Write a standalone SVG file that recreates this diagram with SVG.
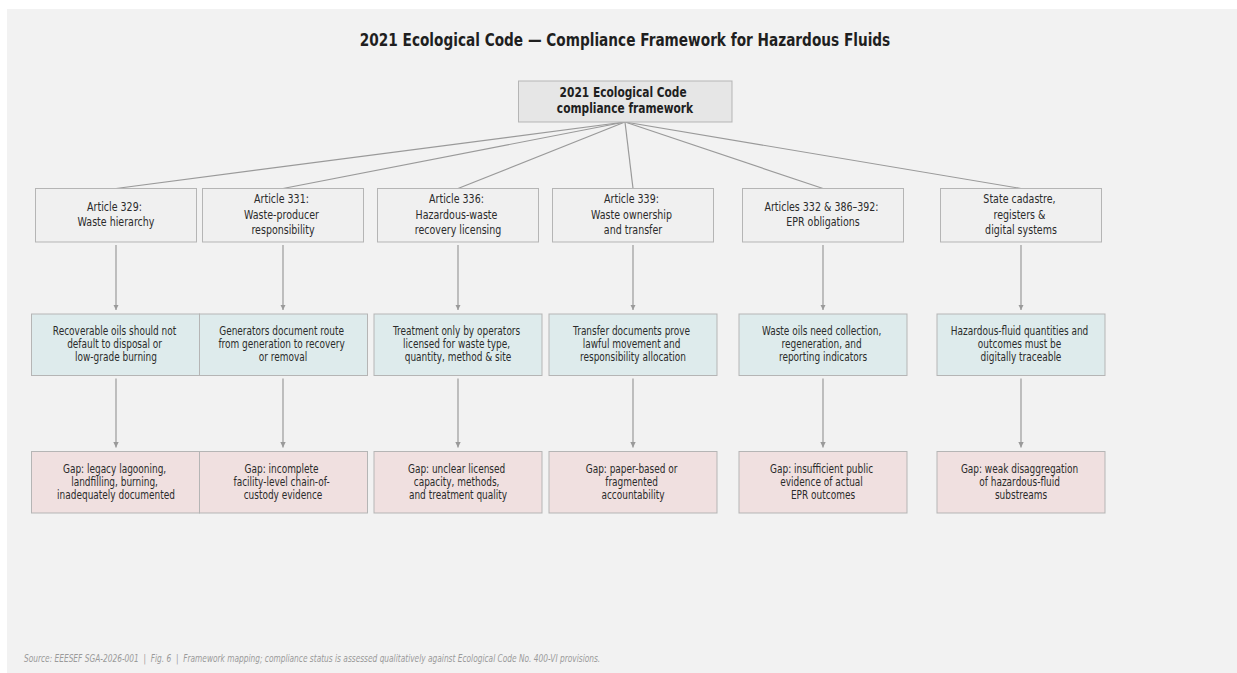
<svg xmlns="http://www.w3.org/2000/svg" width="1237" height="673" viewBox="0 0 1237 673">
  <style>
    .txt { font-family: "DejaVu Sans", "Liberation Sans", sans-serif; fill: #2b2b2b; text-anchor: middle; }
    .title { font-size: 18px; font-weight: bold; fill: #1f1f1f; }
    .rootlbl { font-size: 14px; font-weight: bold; fill: #1f1f1f; }
    .art { font-size: 12.5px; }
    .req { font-size: 11.8px; }
    .foot { font-family: "DejaVu Sans", "Liberation Sans", sans-serif; font-size: 9.8px; font-style: italic; fill: #9a9a9a; }
    .root-box { fill: #e6e6e6; stroke: #b5b5b5; stroke-width: 1; }
    .art-box { fill: #f0f0f0; stroke: #b5b5b5; stroke-width: 1; }
    .req-box { fill: #deebec; stroke: #b5b5b5; stroke-width: 1; }
    .gap-box { fill: #f0e0e0; stroke: #b5b5b5; stroke-width: 1; }
    .edge { stroke: #9a9a9a; stroke-width: 1.2; fill: none; }
  </style>
  <defs>
    <marker id="arrow" viewBox="0 0 10 10" refX="10" refY="5" markerWidth="4.5" markerHeight="4.5" orient="auto">
      <path d="M0,0 L10,5 L0,10 z" fill="#9a9a9a"/>
    </marker>
  </defs>

  <rect x="0" y="0" width="1237" height="673" fill="#ffffff"/>
  <rect x="7" y="9" width="1230" height="664" fill="#f2f2f2"/>

  <text class="txt title" transform="translate(625 0) scale(0.76 1)" x="0" y="46">2021 Ecological Code — Compliance Framework for Hazardous Fluids</text>

  <!-- connectors -->
  <g id="connectors">
    <line class="edge" x1="625" y1="122" x2="116" y2="188.5"/>
    <line class="edge" x1="625" y1="122" x2="283" y2="188.5"/>
    <line class="edge" x1="625" y1="122" x2="458" y2="188.5"/>
    <line class="edge" x1="625" y1="122" x2="633" y2="188.5"/>
    <line class="edge" x1="625" y1="122" x2="823" y2="188.5"/>
    <line class="edge" x1="625" y1="122" x2="1021" y2="188.5"/>

    <line class="edge" x1="116" y1="245" x2="116" y2="310" marker-end="url(#arrow)"/>
    <line class="edge" x1="283" y1="245" x2="283" y2="310" marker-end="url(#arrow)"/>
    <line class="edge" x1="458" y1="245" x2="458" y2="310" marker-end="url(#arrow)"/>
    <line class="edge" x1="633" y1="245" x2="633" y2="310" marker-end="url(#arrow)"/>
    <line class="edge" x1="823" y1="245" x2="823" y2="310" marker-end="url(#arrow)"/>
    <line class="edge" x1="1021" y1="245" x2="1021" y2="310" marker-end="url(#arrow)"/>

    <line class="edge" x1="116" y1="378.5" x2="116" y2="447.5" marker-end="url(#arrow)"/>
    <line class="edge" x1="283" y1="378.5" x2="283" y2="447.5" marker-end="url(#arrow)"/>
    <line class="edge" x1="458" y1="378.5" x2="458" y2="447.5" marker-end="url(#arrow)"/>
    <line class="edge" x1="633" y1="378.5" x2="633" y2="447.5" marker-end="url(#arrow)"/>
    <line class="edge" x1="823" y1="378.5" x2="823" y2="447.5" marker-end="url(#arrow)"/>
    <line class="edge" x1="1021" y1="378.5" x2="1021" y2="447.5" marker-end="url(#arrow)"/>
  </g>

  <!-- root -->
  <g id="root">
    <rect class="root-box" x="518.5" y="81" width="213.5" height="41"/>
    <text class="txt rootlbl" transform="translate(625 0) scale(0.76 1)">
      <tspan x="0" y="97">2021 Ecological Code</tspan>
      <tspan x="0" y="113">compliance framework</tspan>
    </text>
  </g>

  <!-- article row -->
  <g id="art329">
    <rect class="art-box" x="35.5" y="188.5" width="161" height="53.5"/>
    <text class="txt art" transform="translate(116 0) scale(0.76 1)">
      <tspan x="0" y="211">Article 329:</tspan>
      <tspan x="0" y="226.5">Waste hierarchy</tspan>
    </text>
  </g>
  <g id="art331">
    <rect class="art-box" x="202.5" y="188.5" width="161" height="53.5"/>
    <text class="txt art" transform="translate(283 0) scale(0.76 1)">
      <tspan x="0" y="203.5">Article 331:</tspan>
      <tspan x="0" y="219">Waste-producer</tspan>
      <tspan x="0" y="234.5">responsibility</tspan>
    </text>
  </g>
  <g id="art336">
    <rect class="art-box" x="377.5" y="188.5" width="161" height="53.5"/>
    <text class="txt art" transform="translate(458 0) scale(0.76 1)">
      <tspan x="0" y="203.5">Article 336:</tspan>
      <tspan x="0" y="219">Hazardous-waste</tspan>
      <tspan x="0" y="234.5">recovery licensing</tspan>
    </text>
  </g>
  <g id="art339">
    <rect class="art-box" x="552.5" y="188.5" width="161" height="53.5"/>
    <text class="txt art" transform="translate(633 0) scale(0.76 1)">
      <tspan x="0" y="203.5">Article 339:</tspan>
      <tspan x="0" y="219">Waste ownership</tspan>
      <tspan x="0" y="234.5">and transfer</tspan>
    </text>
  </g>
  <g id="art332">
    <rect class="art-box" x="742.5" y="188.5" width="161" height="53.5"/>
    <text class="txt art" transform="translate(823 0) scale(0.76 1)">
      <tspan x="0" y="211">Articles 332 &amp; 386–392:</tspan>
      <tspan x="0" y="226.5">EPR obligations</tspan>
    </text>
  </g>
  <g id="cadastre">
    <rect class="art-box" x="940.5" y="188.5" width="161" height="53.5"/>
    <text class="txt art" transform="translate(1021 0) scale(0.76 1)">
      <tspan x="0" y="203.5">State cadastre,</tspan>
      <tspan x="0" y="219">registers &amp;</tspan>
      <tspan x="0" y="234.5">digital systems</tspan>
    </text>
  </g>

  <!-- requirement row -->
  <g id="req329">
    <rect class="req-box" x="31.5" y="314" width="168" height="61.5"/>
    <text class="txt req" transform="translate(116 0) scale(0.76 1)">
      <tspan x="0" y="335.5">Recoverable oils should not</tspan>
      <tspan x="0" y="348.5">default to disposal or</tspan>
      <tspan x="0" y="361.5">low-grade burning</tspan>
    </text>
  </g>
  <g id="req331">
    <rect class="req-box" x="199.5" y="314" width="168" height="61.5"/>
    <text class="txt req" transform="translate(283 0) scale(0.76 1)">
      <tspan x="0" y="335.5">Generators document route</tspan>
      <tspan x="0" y="348.5">from generation to recovery</tspan>
      <tspan x="0" y="361.5">or removal</tspan>
    </text>
  </g>
  <g id="req336">
    <rect class="req-box" x="374" y="314" width="168" height="61.5"/>
    <text class="txt req" transform="translate(458 0) scale(0.76 1)">
      <tspan x="0" y="335.5">Treatment only by operators</tspan>
      <tspan x="0" y="348.5">licensed for waste type,</tspan>
      <tspan x="0" y="361.5">quantity, method &amp; site</tspan>
    </text>
  </g>
  <g id="req339">
    <rect class="req-box" x="549" y="314" width="168" height="61.5"/>
    <text class="txt req" transform="translate(633 0) scale(0.76 1)">
      <tspan x="0" y="335.5">Transfer documents prove</tspan>
      <tspan x="0" y="348.5">lawful movement and</tspan>
      <tspan x="0" y="361.5">responsibility allocation</tspan>
    </text>
  </g>
  <g id="req332">
    <rect class="req-box" x="739" y="314" width="168" height="61.5"/>
    <text class="txt req" transform="translate(823 0) scale(0.76 1)">
      <tspan x="0" y="335.5">Waste oils need collection,</tspan>
      <tspan x="0" y="348.5">regeneration, and</tspan>
      <tspan x="0" y="361.5">reporting indicators</tspan>
    </text>
  </g>
  <g id="reqcad">
    <rect class="req-box" x="937" y="314" width="168" height="61.5"/>
    <text class="txt req" transform="translate(1021 0) scale(0.76 1)">
      <tspan x="0" y="335.5">Hazardous-fluid quantities and</tspan>
      <tspan x="0" y="348.5">outcomes must be</tspan>
      <tspan x="0" y="361.5">digitally traceable</tspan>
    </text>
  </g>

  <!-- gap row -->
  <g id="gap329">
    <rect class="gap-box" x="31.5" y="451.5" width="168" height="61.5"/>
    <text class="txt req" transform="translate(116 0) scale(0.76 1)">
      <tspan x="0" y="473.3">Gap: legacy lagooning,</tspan>
      <tspan x="0" y="486.3">landfilling, burning,</tspan>
      <tspan x="0" y="499.3">inadequately documented</tspan>
    </text>
  </g>
  <g id="gap331">
    <rect class="gap-box" x="199.5" y="451.5" width="168" height="61.5"/>
    <text class="txt req" transform="translate(283 0) scale(0.76 1)">
      <tspan x="0" y="473.3">Gap: incomplete</tspan>
      <tspan x="0" y="486.3">facility-level chain-of-</tspan>
      <tspan x="0" y="499.3">custody evidence</tspan>
    </text>
  </g>
  <g id="gap336">
    <rect class="gap-box" x="374" y="451.5" width="168" height="61.5"/>
    <text class="txt req" transform="translate(458 0) scale(0.76 1)">
      <tspan x="0" y="473.3">Gap: unclear licensed</tspan>
      <tspan x="0" y="486.3">capacity, methods,</tspan>
      <tspan x="0" y="499.3">and treatment quality</tspan>
    </text>
  </g>
  <g id="gap339">
    <rect class="gap-box" x="549" y="451.5" width="168" height="61.5"/>
    <text class="txt req" transform="translate(633 0) scale(0.76 1)">
      <tspan x="0" y="473.3">Gap: paper-based or</tspan>
      <tspan x="0" y="486.3">fragmented</tspan>
      <tspan x="0" y="499.3">accountability</tspan>
    </text>
  </g>
  <g id="gap332">
    <rect class="gap-box" x="739" y="451.5" width="168" height="61.5"/>
    <text class="txt req" transform="translate(823 0) scale(0.76 1)">
      <tspan x="0" y="473.3">Gap: insufficient public</tspan>
      <tspan x="0" y="486.3">evidence of actual</tspan>
      <tspan x="0" y="499.3">EPR outcomes</tspan>
    </text>
  </g>
  <g id="gapcad">
    <rect class="gap-box" x="937" y="451.5" width="168" height="61.5"/>
    <text class="txt req" transform="translate(1021 0) scale(0.76 1)">
      <tspan x="0" y="473.3">Gap: weak disaggregation</tspan>
      <tspan x="0" y="486.3">of hazardous-fluid</tspan>
      <tspan x="0" y="499.3">substreams</tspan>
    </text>
  </g>

  <text class="foot" transform="translate(24 0) scale(0.76 1)" x="0" y="662">Source: EEESEF SGA-2026-001 &#160;| &#160;Fig. 6 &#160;| &#160;Framework mapping; compliance status is assessed qualitatively against Ecological Code No. 400-VI provisions.</text>
</svg>
